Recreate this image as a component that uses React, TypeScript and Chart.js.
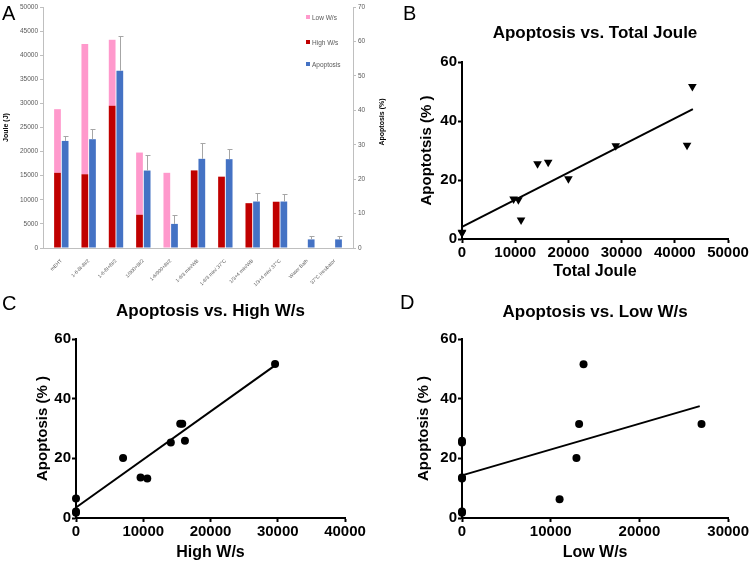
import React, { useEffect, useRef } from 'react';
import { Chart, registerables } from 'chart.js';

Chart.register(...registerables);

const FONT = "'Liberation Sans', Arial, sans-serif";

// ---------- Panel A data ----------
const treatments = [
  'mEHT',
  '1-6-8I-8I/2',
  '1-6-8I+8I/2',
  '1/900+8I/2',
  '1-6/900+8I/2',
  '1-6/3 min/WB',
  '1-6/3 min/ 37°C',
  '1/3+4 min/WB',
  '1/3+4 min/ 37°C',
  'Water Bath',
  '37°C incubator',
];
const highWs = [15600, 15300, 29500, 6900, 0, 16100, 14800, 9300, 9600, 0, 0];
const lowWs = [13200, 27000, 13700, 12900, 15600, 0, 0, 0, 0, 0, 0];
const apoptosisMean = [31.1, 31.6, 51.5, 22.5, 7.0, 25.9, 25.8, 13.5, 13.5, 2.5, 2.5];
const apoptosisErr = [1.4, 3.0, 10.1, 4.5, 2.6, 4.5, 3.0, 2.6, 2.1, 1.0, 1.1];
const jouleTicks = [0, 5000, 10000, 15000, 20000, 25000, 30000, 35000, 40000, 45000, 50000];
const apoPercentTicks = [0, 10, 20, 30, 40, 50, 60, 70];

// ---------- Panel B/C/D data ----------
const totalJoule = [28900, 42300, 43300, 20000, 11100, 16200, 14200, 9700, 10600, 0, 0];
const apoptosisB = [31.6, 31.8, 51.7, 20.4, 6.4, 26.0, 25.5, 13.6, 13.3, 2.3, 2.0];
const fitB = [{ x: 0, y: 4.1 }, { x: 43400, y: 44.0 }];

const highWsC = [15500, 15800, 29600, 7000, 0, 16200, 14100, 9600, 10600, 0, 0];
const apoptosisC = [31.6, 31.6, 51.6, 20.1, 6.5, 25.9, 25.3, 13.6, 13.2, 2.2, 1.8];
const fitC = [{ x: 0, y: 3.5 }, { x: 29500, y: 51.0 }];

const lowWsD = [13200, 27000, 13700, 12900, 11000, 0, 0, 0, 0, 0, 0];
const apoptosisD = [31.5, 31.5, 51.5, 20.1, 6.3, 25.9, 25.3, 13.6, 13.2, 2.2, 1.8];
const fitD = [{ x: 0, y: 14.3 }, { x: 26800, y: 37.5 }];

const yTicksScatter = [0, 20, 40, 60];
const xTicksB = [0, 10000, 20000, 30000, 40000, 50000];
const xTicksC = [0, 10000, 20000, 30000, 40000];
const xTicksD = [0, 10000, 20000, 30000];

const errorBarPlugin = {
  id: 'errorBars',
  afterDatasetsDraw(chart: any) {
    const meta = chart.getDatasetMeta(2);
    const y1 = chart.scales.y1;
    const ctx = chart.ctx;
    ctx.save();
    ctx.strokeStyle = '#a6a6a6';
    ctx.lineWidth = 1;
    meta.data.forEach((bar: any, i: number) => {
      const top = Math.round(y1.getPixelForValue(apoptosisMean[i] + apoptosisErr[i])) + 0.5;
      const x = Math.round(bar.x) + 0.5;
      ctx.beginPath();
      ctx.moveTo(x, bar.y);
      ctx.lineTo(x, top);
      ctx.moveTo(x - 2, top);
      ctx.lineTo(x + 3, top);
      ctx.stroke();
    });
    ctx.restore();
  },
};

function BarPanel() {
  const ref = useRef<HTMLCanvasElement>(null);
  const W = 380;
  const H = 288;
  useEffect(() => {
    const idx = treatments.map((_, i) => i);
    const common = { categoryPercentage: 0.56, barPercentage: 0.88 };
    const chart = new Chart(ref.current as HTMLCanvasElement, {
      type: 'bar',
      data: {
        datasets: [
          { label: 'High W/s', data: idx.map((i) => ({ x: i, y: highWs[i] })), backgroundColor: '#C00000', stack: 'joule', yAxisID: 'y', ...common },
          { label: 'Low W/s', data: idx.map((i) => ({ x: i, y: lowWs[i] })), backgroundColor: '#FF99CC', stack: 'joule', yAxisID: 'y', ...common },
          { label: 'Apoptosis', data: idx.map((i) => ({ x: i, y: apoptosisMean[i] })), backgroundColor: '#4472C4', stack: 'apo', yAxisID: 'y1', ...common },
        ],
      } as any,
      options: {
        responsive: false,
        animation: false,
        layout: { padding: { top: 7, left: 0, right: 0, bottom: 0 } },
        plugins: { legend: { display: false }, tooltip: { enabled: false }, title: { display: false } },
        scales: {
          x: {
            type: 'linear',
            offset: false,
            bounds: 'data',
            min: -0.67,
            max: treatments.length - 1 + 0.67,
            afterFit: (s: any) => { s.height = H - 248; },
            afterBuildTicks: (s: any) => { s.ticks = idx.map((v) => ({ value: v })); },
            grid: { display: false, offset: false },
            border: { color: '#bfbfbf' },
            ticks: { font: { size: 5, family: FONT }, color: '#595959', minRotation: 45, maxRotation: 45, autoSkip: false, padding: 2, callback: (v: any) => treatments[v] },
          },
          y: {
            stacked: true,
            position: 'left',
            min: 0,
            max: 50000,
            afterFit: (s: any) => { s.width = 43; },
            afterBuildTicks: (s: any) => { s.ticks = jouleTicks.map((v) => ({ value: v })); },
            ticks: { font: { size: 6.5, family: FONT }, color: '#595959', padding: 2, callback: (v: any) => String(v) },
            grid: { drawOnChartArea: false, drawTicks: true, tickLength: 3, tickColor: '#bfbfbf' },
            border: { color: '#bfbfbf' },
            title: { display: true, text: 'Joule (J)', font: { size: 7, weight: 'bold', family: FONT }, color: '#000', padding: { top: 2, bottom: 0 } },
          },
          y1: {
            stacked: true,
            position: 'right',
            min: 0,
            max: 70,
            afterFit: (s: any) => { s.width = W - 353; },
            afterBuildTicks: (s: any) => { s.ticks = apoPercentTicks.map((v) => ({ value: v })); },
            ticks: { font: { size: 6.5, family: FONT }, color: '#595959', padding: 2, callback: (v: any) => String(v) },
            grid: { drawOnChartArea: false, drawTicks: true, tickLength: 3, tickColor: '#bfbfbf' },
            border: { color: '#bfbfbf' },
          },
        },
      } as any,
      plugins: [errorBarPlugin],
    });
    return () => chart.destroy();
  }, []);
  return <canvas ref={ref} width={W} height={H} style={{ position: 'absolute', left: 0, top: 0 }} />;
}

type ScatterProps = {
  left: number;
  top: number;
  width: number;
  height: number;
  area: { left: number; right: number; top: number; bottom: number };
  titleTop: number;
  title: string;
  xTitle: string;
  yTitle: string;
  yTitleX: number;
  xTitleY: number;
  xMax: number;
  xTicks: number[];
  xs: number[];
  ys: number[];
  fit: { x: number; y: number }[];
  triangle?: boolean;
};

function ScatterPanel(p: ScatterProps) {
  const ref = useRef<HTMLCanvasElement>(null);
  useEffect(() => {
    const tickFont = { size: 15, weight: 'bold', family: FONT };
    const titleLH = 17 * 1.2;
    const chart = new Chart(ref.current as HTMLCanvasElement, {
      type: 'scatter',
      data: {
        datasets: [
          {
            data: p.xs.map((x, i) => ({ x, y: p.ys[i] })),
            pointStyle: p.triangle ? 'triangle' : 'circle',
            pointRotation: p.triangle ? 180 : 0,
            pointRadius: p.triangle ? 5 : 4,
            backgroundColor: '#000',
            borderColor: '#000',
            borderWidth: 0,
            clip: false,
          },
          {
            type: 'line',
            data: p.fit,
            borderColor: '#000',
            borderWidth: 2,
            pointRadius: 0,
            fill: false,
            clip: false,
          },
        ],
      } as any,
      options: {
        responsive: false,
        animation: false,
        layout: { padding: { top: 0, left: 0, right: p.width - p.area.right, bottom: 0 } },
        plugins: {
          legend: { display: false },
          tooltip: { enabled: false },
          title: {
            display: true,
            text: p.title,
            fullSize: false,
            color: '#000',
            font: { size: 17, weight: 'bold', family: FONT, lineHeight: 1.2 },
            padding: { top: p.titleTop, bottom: p.area.top - p.titleTop - titleLH },
          },
        },
        scales: {
          x: {
            type: 'linear',
            min: 0,
            max: p.xMax,
            afterFit: (s: any) => { s.height = p.height - p.area.bottom; },
            afterBuildTicks: (s: any) => { s.ticks = p.xTicks.map((v) => ({ value: v })); },
            ticks: { font: tickFont, color: '#000', padding: 1, maxRotation: 0, autoSkip: false, callback: (v: any) => String(v) },
            grid: { drawOnChartArea: false, drawTicks: true, tickLength: 4, tickColor: '#000', tickWidth: 2 },
            border: { color: '#000', width: 2 },
            title: { display: true, text: p.xTitle, color: '#000', font: { size: 16, weight: 'bold', family: FONT, lineHeight: 1 }, padding: { top: 0, bottom: p.height - p.xTitleY - 8 } },
          },
          y: {
            type: 'linear',
            min: 0,
            max: 60,
            afterFit: (s: any) => { s.width = p.area.left; },
            afterBuildTicks: (s: any) => { s.ticks = yTicksScatter.map((v) => ({ value: v })); },
            ticks: { font: tickFont, color: '#000', padding: 1, callback: (v: any) => String(v) },
            grid: { drawOnChartArea: false, drawTicks: true, tickLength: 4, tickColor: '#000', tickWidth: 2 },
            border: { color: '#000', width: 2 },
            title: { display: true, text: p.yTitle, color: '#000', font: { size: 15, weight: 'bold', family: FONT, lineHeight: 1.2 }, padding: { top: p.yTitleX - 9, bottom: 0 } },
          },
        },
      } as any,
    });
    return () => chart.destroy();
  }, []);
  return <canvas ref={ref} width={p.width} height={p.height} style={{ position: 'absolute', left: p.left, top: p.top }} />;
}

const letterStyle = (left: number, top: number): React.CSSProperties => ({
  position: 'absolute',
  left,
  top,
  fontFamily: FONT,
  fontSize: 20,
  lineHeight: '20px',
  color: '#000',
});

const legendItems = [
  { label: 'Low W/s', color: '#FF99CC', y: 17 },
  { label: 'High W/s', color: '#C00000', y: 42 },
  { label: 'Apoptosis', color: '#4472C4', y: 64 },
];

export default function App() {
  useEffect(() => {
    document.body.style.margin = '0';
  }, []);
  return (
    <div style={{ position: 'absolute', left: 0, top: 0, width: 750, height: 562, background: '#fff', overflow: 'hidden' }}>
      <BarPanel />
      <ScatterPanel
        left={380}
        top={0}
        width={370}
        height={280}
        area={{ left: 82, right: 348, top: 62, bottom: 239 }}
        titleTop={23}
        title="Apoptosis vs. Total Joule"
        xTitle="Total Joule"
        yTitle="Apoptotsis (% )"
        yTitleX={47}
        xTitleY={272}
        xMax={50000}
        xTicks={xTicksB}
        xs={totalJoule}
        ys={apoptosisB}
        fit={fitB}
        triangle
      />
      <ScatterPanel
        left={0}
        top={280}
        width={375}
        height={282}
        area={{ left: 76, right: 345, top: 59, bottom: 238 }}
        titleTop={21.5}
        title="Apoptosis vs. High W/s"
        xTitle="High W/s"
        yTitle="Apoptosis (% )"
        yTitleX={43}
        xTitleY={273}
        xMax={40000}
        xTicks={xTicksC}
        xs={highWsC}
        ys={apoptosisC}
        fit={fitC}
      />
      <ScatterPanel
        left={375}
        top={280}
        width={375}
        height={282}
        area={{ left: 87, right: 355, top: 59, bottom: 238 }}
        titleTop={22}
        title="Apoptosis vs. Low W/s"
        xTitle="Low W/s"
        yTitle="Apoptosis (% )"
        yTitleX={49}
        xTitleY={273}
        xMax={30000}
        xTicks={xTicksD}
        xs={lowWsD}
        ys={apoptosisD}
        fit={fitD}
      />
      <div style={letterStyle(2, 2.5)}>A</div>
      <div style={letterStyle(403, 2.5)}>B</div>
      <div style={letterStyle(2, 292.5)}>C</div>
      <div style={letterStyle(400, 292)}>D</div>
      {legendItems.map((it) => (
        <div key={it.label} style={{ position: 'absolute', left: 306, top: it.y - 4, height: 8, display: 'flex', alignItems: 'center', fontFamily: FONT, fontSize: 6.5, color: '#595959', whiteSpace: 'nowrap' }}>
          <span style={{ display: 'inline-block', width: 4, height: 4, background: it.color, marginRight: 2 }} />
          {it.label}
        </div>
      ))}
      <div
        style={{
          position: 'absolute',
          left: 381,
          top: 122,
          transform: 'translate(-50%, -50%) rotate(-90deg)',
          fontFamily: FONT,
          fontSize: 7,
          fontWeight: 'bold',
          color: '#000',
          whiteSpace: 'nowrap',
        }}
      >
        Apoptosis (%)
      </div>
    </div>
  );
}
